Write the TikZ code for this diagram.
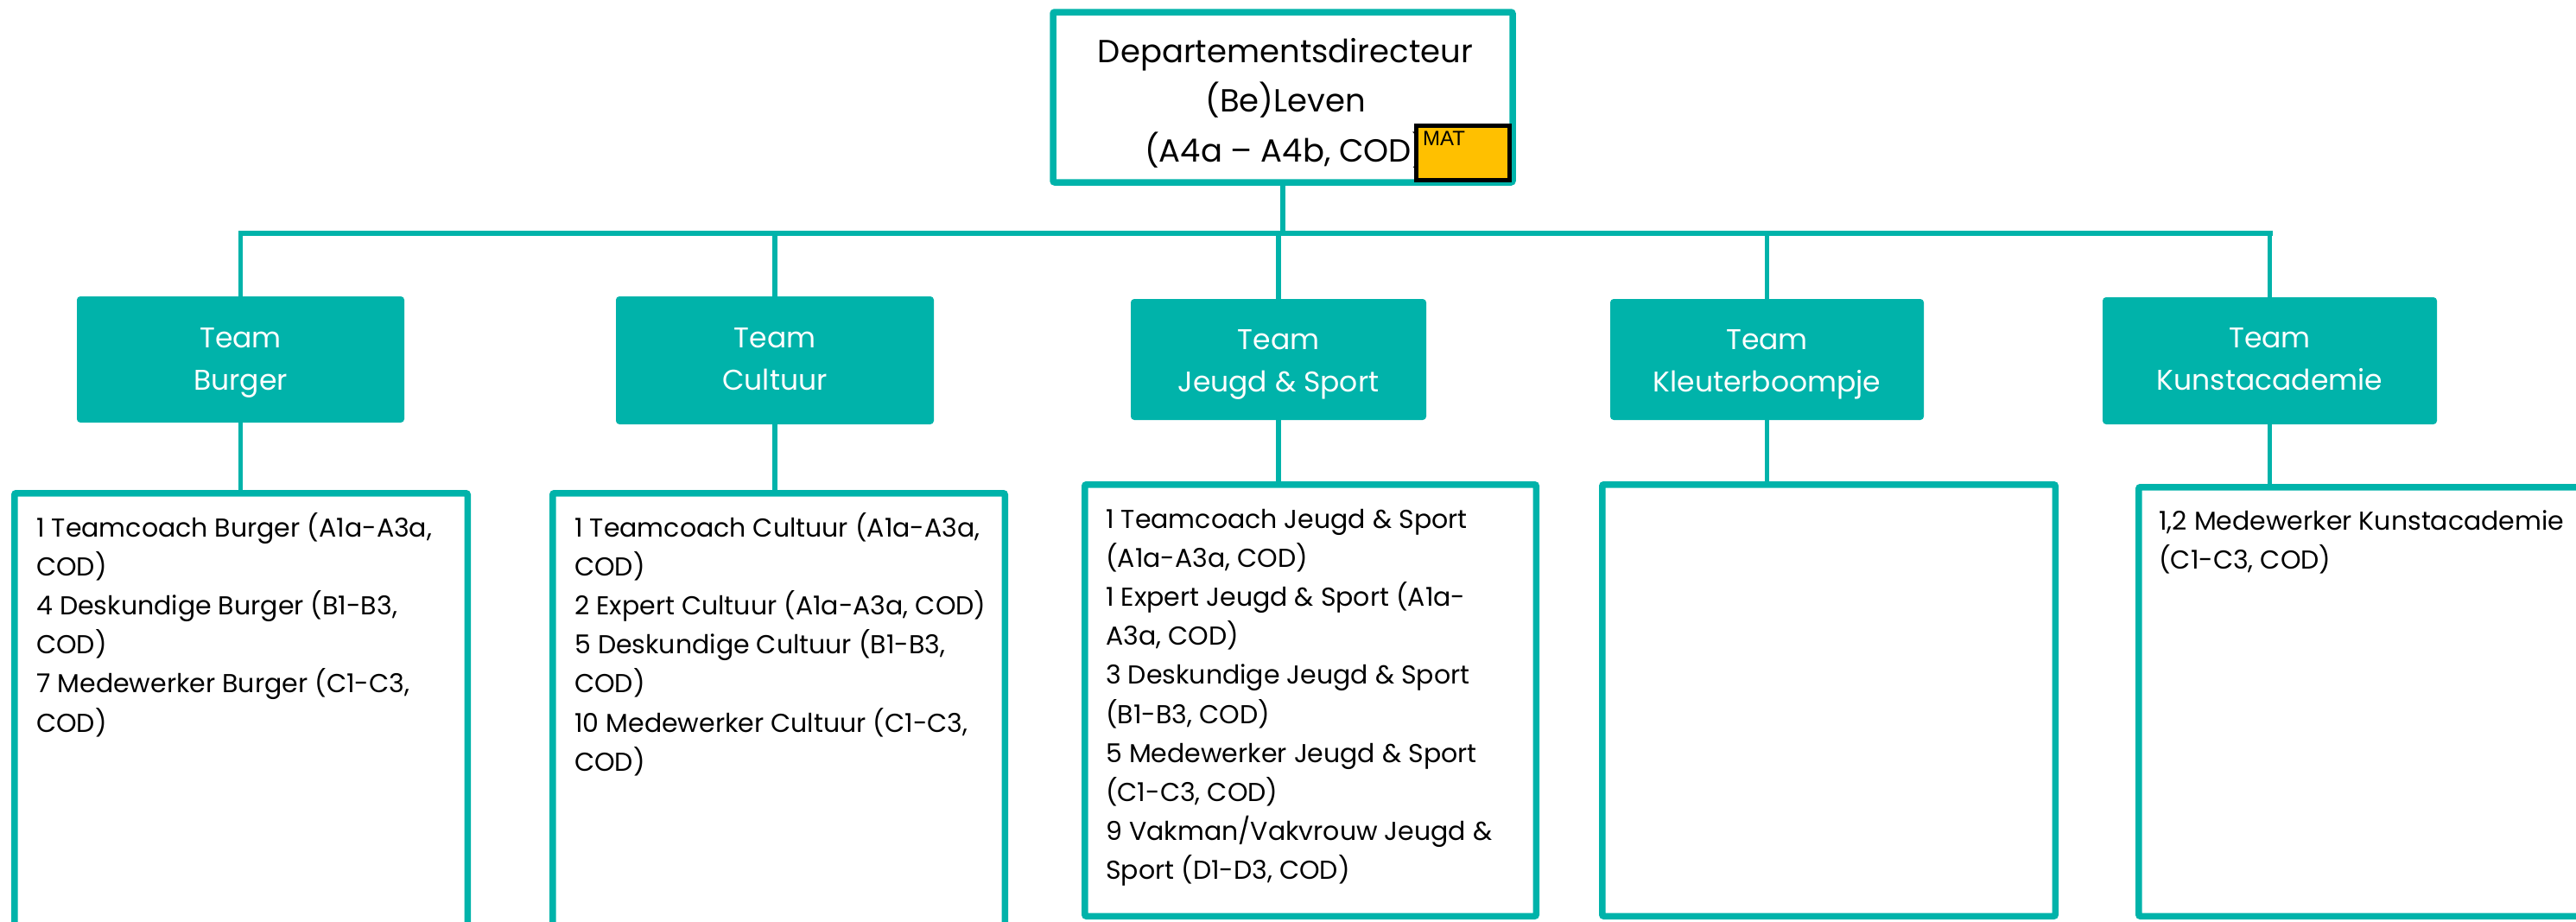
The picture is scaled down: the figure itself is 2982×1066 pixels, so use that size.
\documentclass[tikz,border=0pt]{standalone}
\usepackage{fontspec}
\setmainfont{Poppins}
\newfontfamily\matfont{Liberation Sans}
\definecolor{tealc}{RGB}{0,179,170}
\definecolor{matorange}{RGB}{255,192,0}
\newcommand\linesL[1]{\vtop{\halign{##\hfil\cr #1\crcr}}}
\newcommand\linesC[1]{\vtop{\halign{\hfil##\hfil\cr #1\crcr}}}
\begin{document}
\begin{tikzpicture}[x=1pt,y=-1pt,
  cbox/.style={draw=tealc, line width=7.5pt, fill=white, rounded corners=2pt, anchor=north west, inner sep=0pt, outer sep=0pt},
  tbox/.style={fill=tealc, rounded corners=4pt, anchor=north west, inner sep=0pt, outer sep=0pt},
  matbox/.style={draw=black, line width=5pt, fill=matorange, anchor=north west, inner sep=0pt, outer sep=0pt},
  conn/.style={draw=tealc, line width=5.5pt},
  hconn/.style={draw=tealc, line width=6pt, line cap=rect},
  ctext/.style={anchor=base west, inner sep=0pt, font=\fontsize{30}{45.2}\selectfont, text=black},
  ttext/.style={anchor=base, inner sep=0pt, font=\fontsize{33}{49}\selectfont, text=white},
  toptext/.style={anchor=base, inner sep=0pt, font=\fontsize{37}{57.5}\selectfont, text=black},
]
\useasboundingbox (0,0) rectangle (2982,1066);
\fill[white] (0,0) rectangle (2982,1066);

% top box
\node[cbox, minimum width=532pt, minimum height=197pt] (top) at (1219,14) {};

% team boxes
\node[tbox, minimum width=379pt, minimum height=146pt] (t1) at (89,343) {};
\node[tbox, minimum width=368pt, minimum height=148pt] (t2) at (713,343) {};
\node[tbox, minimum width=342pt, minimum height=140pt] (t3) at (1309,346) {};
\node[tbox, minimum width=363pt, minimum height=140pt] (t4) at (1864,346) {};
\node[tbox, minimum width=387pt, minimum height=147pt] (t5) at (2434,344) {};

% content boxes
\node[cbox, minimum width=524.5pt, minimum height=540pt] (b1) at (16.75,570.75) {};
\node[cbox, minimum width=523.5pt, minimum height=540pt] (b2) at (639.75,570.75) {};
\node[cbox, minimum width=522.5pt, minimum height=499.5pt] (b3) at (1255.75,560.75) {};
\node[cbox, minimum width=524.5pt, minimum height=499.5pt] (b4) at (1854.75,560.75) {};
\node[cbox, minimum width=600pt, minimum height=496.5pt] (b5) at (2475.75,563.75) {};

% connectors
\coordinate (bar) at (0,269.5);
\draw[conn] (top.south) -- (top.south |- bar);
\draw[hconn] (t1.north |- bar) -- (t5.north |- bar);
\foreach \t in {t1,t2,t3,t4,t5}{
  \draw[conn] (\t.north |- bar) -- (\t.north);
}
\draw[conn] (t1.south) -- (t1.south |- b1.north);
\draw[conn] (t2.south) -- (t2.south |- b2.north);
\draw[conn] (t3.south) -- (t3.south |- b3.north);
\draw[conn] (t4.south) -- (t4.south |- b4.north);
\draw[conn] (t5.south) -- (t5.south |- b5.north);

% top text
\node[toptext] (toptxt) at (1488,72) {\linesC{Departementsdirecteur\cr (Be)Leven\cr (A4a – A4b, COD)}};

% team labels
\node[ttext] (l1) at (t1.center |- 0,402) {\linesC{Team\cr Burger}};
\node[ttext] (l2) at (t2.center |- 0,402) {\linesC{Team\cr Cultuur}};
\node[ttext] (l3) at (t3.center |- 0,404) {\linesC{Team\cr Jeugd \& Sport}};
\node[ttext] (l4) at (t4.center |- 0,404) {\linesC{Team\cr Kleuterboompje}};
\node[ttext] (l5) at (t5.center |- 0,402) {\linesC{Team\cr Kunstacademie}};

% content texts
\node[ctext] (c1) at (42,621) {\linesL{1 Teamcoach Burger (A1a-A3a,\cr COD)\cr 4 Deskundige Burger (B1-B3,\cr COD)\cr 7 Medewerker Burger (C1-C3,\cr COD)}};
\node[ctext] (c2) at (665,621) {\linesL{1 Teamcoach Cultuur (A1a-A3a,\cr COD)\cr 2 Expert Cultuur (A1a-A3a, COD)\cr 5 Deskundige Cultuur (B1-B3,\cr COD)\cr 10 Medewerker Cultuur (C1-C3,\cr COD)}};
\node[ctext] (c3) at (1280,611) {\linesL{1 Teamcoach Jeugd \& Sport\cr (A1a-A3a, COD)\cr 1 Expert Jeugd \& Sport (A1a-\cr A3a, COD)\cr 3 Deskundige Jeugd \& Sport\cr (B1-B3, COD)\cr 5 Medewerker Jeugd \& Sport\cr (C1-C3, COD)\cr 9 Vakman/Vakvrouw Jeugd \&\cr Sport (D1-D3, COD)}};
\node[ctext] (c5) at (2499,613) {\linesL{1,2 Medewerker Kunstacademie\cr (C1-C3, COD)}};

% MAT badge
\node[matbox, minimum width=108pt, minimum height=63pt] (mat) at (1639.5,145.5) {};
\node[anchor=base west, inner sep=0pt, font=\matfont\fontsize{24}{28}\selectfont] (mattxt) at (1647,168) {MAT};
\end{tikzpicture}
\end{document}
